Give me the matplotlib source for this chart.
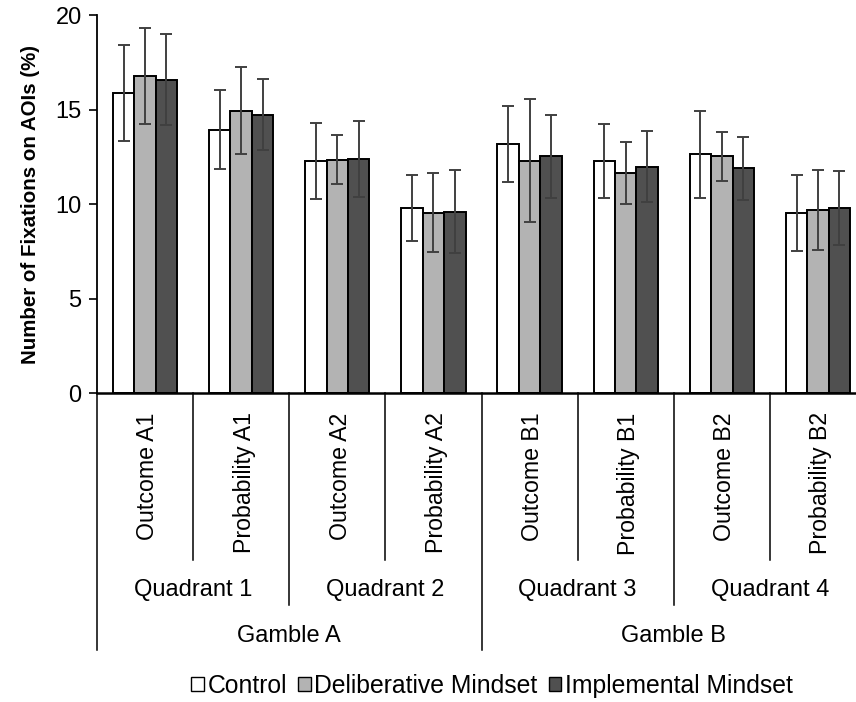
import matplotlib
matplotlib.use("Agg")
import matplotlib.pyplot as plt
from matplotlib.patches import Patch
from matplotlib.transforms import blended_transform_factory
import numpy as np

plt.rcParams['font.family'] = ['Liberation Sans', 'DejaVu Sans']

categories = ["Outcome A1", "Probability A1", "Outcome A2", "Probability A2",
              "Outcome B1", "Probability B1", "Outcome B2", "Probability B2"]
quadrants = ["Quadrant 1", "Quadrant 2", "Quadrant 3", "Quadrant 4"]
gambles = ["Gamble A", "Gamble B"]
series = ["Control", "Deliberative Mindset", "Implemental Mindset"]

control = [15.9, 13.95, 12.3, 9.8, 13.2, 12.3, 12.65, 9.55]
deliberative = [16.8, 14.95, 12.35, 9.55, 12.3, 11.65, 12.55, 9.7]
implemental = [16.6, 14.75, 12.4, 9.6, 12.55, 12.0, 11.9, 9.8]

control_err = [2.55, 2.1, 2.0, 1.75, 2.0, 1.95, 2.3, 2.0]
deliberative_err = [2.55, 2.3, 1.3, 2.1, 3.25, 1.65, 1.3, 2.1]
implemental_err = [2.4, 1.9, 2.0, 2.2, 2.2, 1.9, 1.65, 1.95]

colors = ["#ffffff", "#b3b3b3", "#505050"]
values = [control, deliberative, implemental]
errors = [control_err, deliberative_err, implemental_err]

FS = 17

fig = plt.figure(figsize=(8.56, 7.02), dpi=100)
ax = fig.add_axes([97 / 856, 1 - 393.3 / 702, (866 - 97) / 856, 378 / 702])

x = np.arange(len(categories))
width = 0.223
for i, (vals, errs, col) in enumerate(zip(values, errors, colors)):
    pos = x + (i - 1) * width
    ax.bar(pos, vals, width=width, color=col, edgecolor="black", linewidth=1.4,
           zorder=2)
    ax.errorbar(pos, vals, yerr=errs, fmt="none", ecolor="#404040",
                elinewidth=1.4, capsize=4, capthick=1.4, zorder=3)

ax.set_xlim(-0.5, len(categories) - 0.5)
ax.set_ylim(0, 20)
ax.set_yticks([0, 5, 10, 15, 20])
ax.tick_params(axis="y", labelsize=FS, length=6, width=1.2, direction="out",
               pad=5)
ax.set_xticks([])
for s in ["top", "right"]:
    ax.spines[s].set_visible(False)
ax.spines["left"].set_linewidth(1.3)
ax.spines["bottom"].set_linewidth(1.8)
ax.set_ylabel("Number of Fixations on AOIs (%)", fontsize=14.8,
              fontweight="bold", labelpad=11)

# Hierarchical category axis below the plot
tr = blended_transform_factory(ax.transData, ax.transAxes)
px = 1 / 378.0

def vline(xpos, y_bottom_px):
    ax.plot([xpos, xpos], [0, -y_bottom_px * px], color="black", lw=1.1,
            transform=tr, clip_on=False)

for k in range(1, len(categories)):
    if k == 4:
        depth = 257
    elif k % 2 == 0:
        depth = 212
    else:
        depth = 167
    vline(k - 0.5, depth)
vline(-0.5, 257)

for k, name in enumerate(categories):
    ax.text(k + 0.03, -19 * px, name, rotation=90, ha="center", va="top",
            fontsize=16.7, transform=tr)

for q, name in enumerate(quadrants):
    ax.text(2 * q + 0.5, -197 * px, name, ha="center", va="center",
            fontsize=FS, transform=tr)

for g, name in enumerate(gambles):
    ax.text(4 * g + 1.5, -243 * px, name, ha="center", va="center",
            fontsize=FS, transform=tr)

handles = [Patch(facecolor=c, edgecolor="black", linewidth=1.0) for c in colors]
fig.legend(handles, series, loc="center", bbox_to_anchor=(492 / 856, 1 - 686 / 702),
           ncol=3, frameon=False, fontsize=17.8, handlelength=0.5,
           handleheight=0.5, handletextpad=0.15, columnspacing=0.45,
           borderaxespad=0)

fig.savefig("out.png", dpi=100)
